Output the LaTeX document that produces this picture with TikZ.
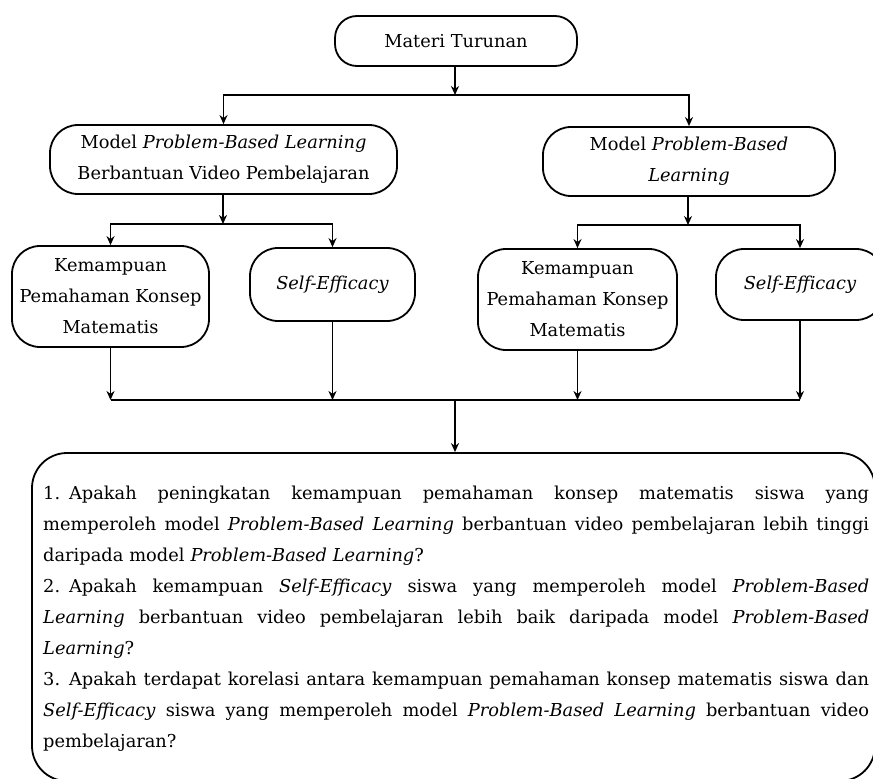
\documentclass[tikz,border=0pt]{standalone}
\usepackage{fontspec}
\setmainfont{DejaVu Serif}
\usetikzlibrary{arrows.meta}
\newcommand\fsz{\fontsize{17.8}{31.1}\selectfont}
\newcommand\jline[1]{\leavevmode\hbox to 826pt{\spaceskip=0.32em plus 1fil\relax #1}}
\begin{document}
\begin{tikzpicture}[x=1pt,y=-1pt,
  box/.style={draw, line width=1.8pt, rounded corners=28pt, align=center, inner sep=0pt, font=\fsz},
  arr/.style={line width=1.8pt, -{Stealth[length=9pt,width=8pt]}},
  ln/.style={line width=1.8pt}]
\useasboundingbox (0,0) rectangle (873,779);
\clip (0,0) rectangle (873,779);
\fill[white] (0,0) rectangle (873,779);

\node[box, rounded corners=22pt, minimum width=242pt, minimum height=50pt] (mat) at (456,41) {Materi Turunan};
\node[box, minimum width=347pt, minimum height=69pt] (pbl1) at (223.5,159.5) {Model \textit{Problem-Based Learning}\\Berbantuan Video Pembelajaran};
\node[box, minimum width=292pt, minimum height=69pt] (pbl2) at (689,161.5) {Model \textit{Problem-Based}\\\textit{Learning}};
\node[box, minimum width=197pt, minimum height=101pt] (k1) at (110.5,296.5) {Kemampuan\\Pemahaman Konsep\\Matematis};
\node[box, minimum width=165pt, minimum height=73pt] (s1) at (332.5,284.5) {\textit{Self-Efficacy}};
\node[box, minimum width=199pt, minimum height=101pt] (k2) at (577.5,299.5) {Kemampuan\\Pemahaman Konsep\\Matematis};
\node[box, minimum width=168pt, minimum height=71pt] (s2) at (800,284.5) {\textit{Self-Efficacy}};
\node[box, rounded corners=35pt, minimum width=843pt, minimum height=328pt] (q) at (453.5,617) {};

\node[anchor=base west, inner sep=0pt, text width=826pt, align=left, font=\fsz] (qt) at (43,499) {%
\jline{1. Apakah peningkatan kemampuan pemahaman konsep matematis siswa yang}\\
\jline{memperoleh model \textit{Problem-Based Learning} berbantuan video pembelajaran lebih tinggi}\\
daripada model \textit{Problem-Based Learning}?\\
\jline{2. Apakah kemampuan \textit{Self-Efficacy} siswa yang memperoleh model \textit{Problem-Based}}\\
\jline{\textit{Learning} berbantuan video pembelajaran lebih baik daripada model \textit{Problem-Based}}\\
\textit{Learning}?\\
\jline{3. Apakah terdapat korelasi antara kemampuan pemahaman konsep matematis siswa dan}\\
\jline{\textit{Self-Efficacy} siswa yang memperoleh model \textit{Problem-Based Learning} berbantuan video}\\
pembelajaran?};

\coordinate (j0) at (455,95);
\coordinate (j1) at (223,224);
\coordinate (j2) at (688,225);
\coordinate (j3) at (455,400);

\draw[arr] (mat.south -| j0) -- (j0);
\draw[arr] (j0) -| (pbl1);
\draw[arr] (j0) -| (pbl2);
\draw[arr] (pbl1.south -| j1) -- (j1);
\draw[arr] (j1) -| (k1);
\draw[arr] (j1) -| (s1);
\draw[arr] (pbl2.south -| j2) -- (j2);
\draw[arr] (j2) -| (k2);
\draw[arr] (j2) -| (s2);
\draw[arr] (k1) -- (k1 |- j3);
\draw[arr] (s1) -- (s1 |- j3);
\draw[arr] (k2) -- (k2 |- j3);
\draw[arr] (s2) -- (s2 |- j3);
\draw[ln] (k1 |- j3) -- (s2 |- j3);
\draw[arr] (j3) -- (j3 |- q.north);
\end{tikzpicture}
\end{document}
